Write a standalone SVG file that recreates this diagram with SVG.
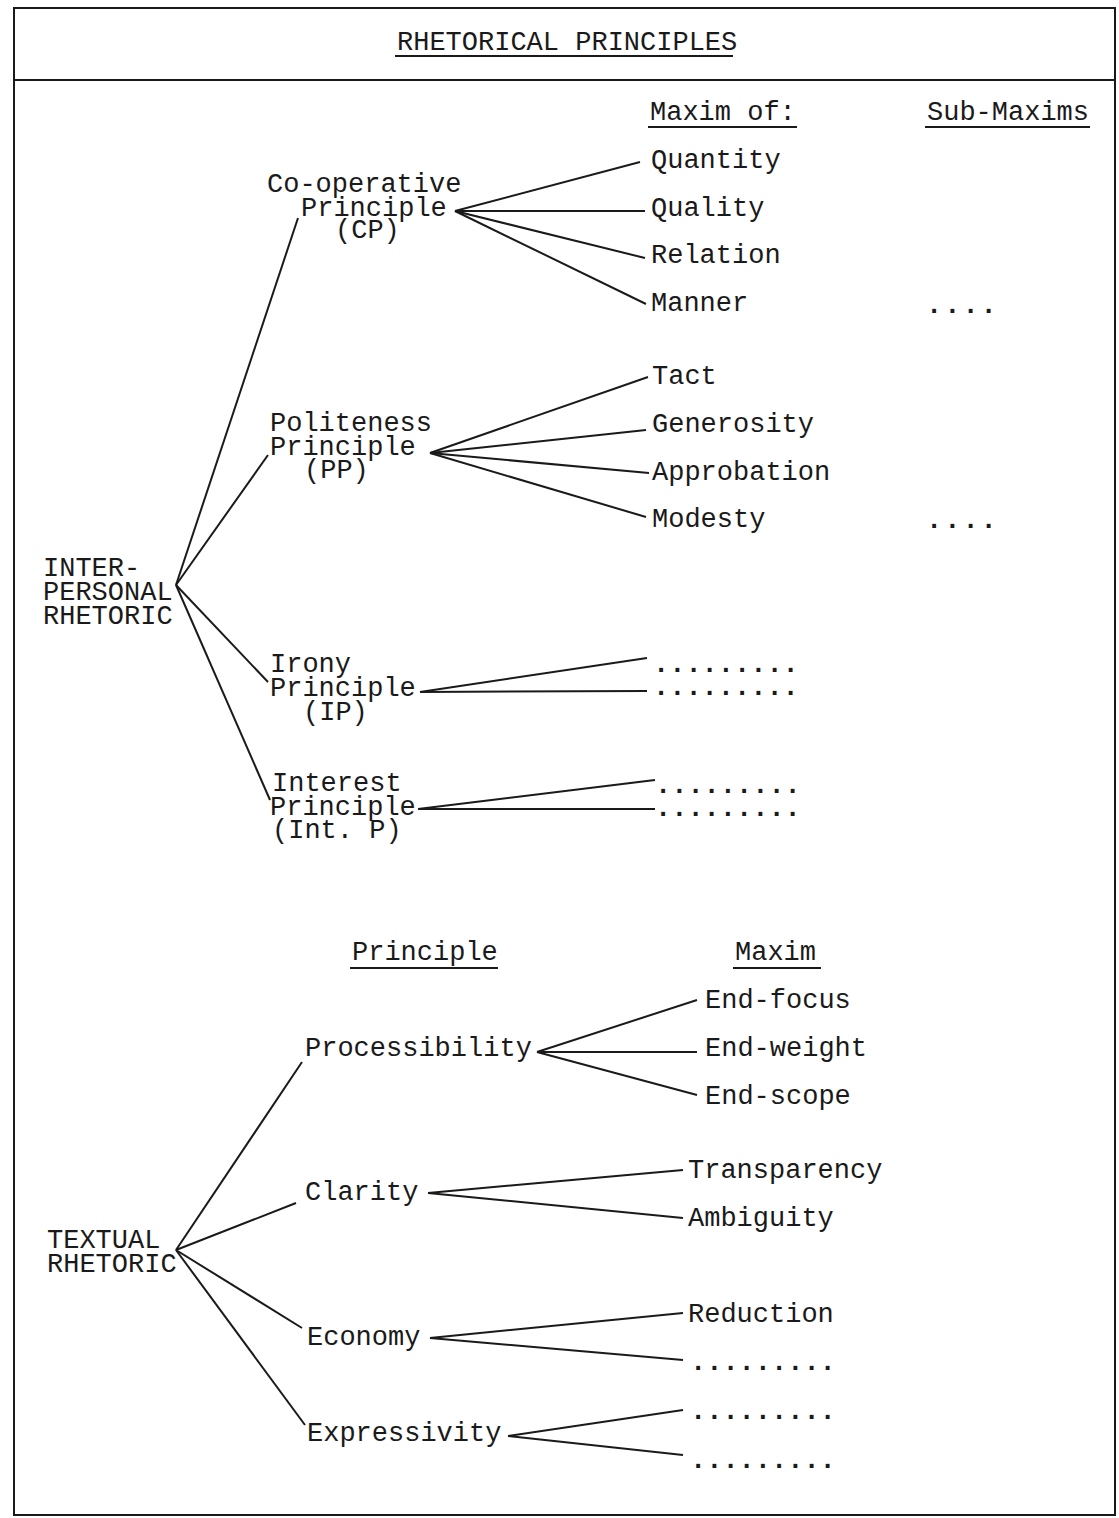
<svg xmlns="http://www.w3.org/2000/svg" width="1119" height="1518" viewBox="0 0 1119 1518">
<style>
text{font-family:"Liberation Mono","Courier New",monospace;font-size:27px;fill:#1a1a1a}
.c line,.ul{stroke:#1a1a1a;stroke-width:2;fill:none}
.frame{stroke:#1a1a1a;stroke-width:2;fill:#fff}
.dots{font-weight:bold}
</style>
<rect class="frame" x="14" y="8" width="1101" height="1507"/>
<line class="ul" x1="14" y1="80" x2="1115" y2="80"/>
<g id="title"><text x="397" y="50">RHETORICAL PRINCIPLES</text><line class="ul" x1="395" y1="56" x2="733" y2="56"/></g>
<g id="h-maxim"><text x="650" y="120">Maxim of:</text><line class="ul" x1="648" y1="127" x2="797" y2="127"/></g>
<g id="h-sub"><text x="927" y="120">Sub-Maxims</text><line class="ul" x1="925" y1="127" x2="1090" y2="127"/></g>
<g id="interpersonal"><text x="43" y="576">INTER-</text><text x="43" y="600">PERSONAL</text><text x="43" y="624">RHETORIC</text></g>
<g id="cp"><text x="267" y="192">Co-operative</text><text x="301" y="216">Principle</text><text x="335" y="238">(CP)</text></g>
<g id="quantity"><text x="651" y="168">Quantity</text></g>
<g id="quality"><text x="651" y="216">Quality</text></g>
<g id="relation"><text x="651" y="263">Relation</text></g>
<g id="manner"><text x="651" y="311">Manner</text></g>
<g id="cp-sub"><text class="dots" x="926" y="313" letter-spacing="2">....</text></g>
<g id="pp"><text x="270" y="431">Politeness</text><text x="270" y="455">Principle</text><text x="304" y="478">(PP)</text></g>
<g id="tact"><text x="652" y="384">Tact</text></g>
<g id="generosity"><text x="652" y="432">Generosity</text></g>
<g id="approbation"><text x="652" y="480">Approbation</text></g>
<g id="modesty"><text x="652" y="527">Modesty</text></g>
<g id="pp-sub"><text class="dots" x="926" y="528" letter-spacing="2">....</text></g>
<g id="ip"><text x="270" y="672">Irony</text><text x="270" y="696">Principle</text><text x="303" y="720">(IP)</text></g>
<g id="ip-m1"><text class="dots" x="653" y="672">.........</text></g>
<g id="ip-m2"><text class="dots" x="653" y="695">.........</text></g>
<g id="intp"><text x="272" y="791">Interest</text><text x="270" y="815">Principle</text><text x="272" y="838">(Int. P)</text></g>
<g id="intp-m1"><text class="dots" x="655" y="793">.........</text></g>
<g id="intp-m2"><text class="dots" x="655" y="816">.........</text></g>
<g id="h-principle"><text x="352" y="960">Principle</text><line class="ul" x1="350" y1="968" x2="498" y2="968"/></g>
<g id="h-maxim2"><text x="735" y="960">Maxim</text><line class="ul" x1="733" y1="968" x2="821" y2="968"/></g>
<g id="textual"><text x="47" y="1248">TEXTUAL</text><text x="47" y="1272">RHETORIC</text></g>
<g id="processibility"><text x="305" y="1056">Processibility</text></g>
<g id="endfocus"><text x="705" y="1008">End-focus</text></g>
<g id="endweight"><text x="705" y="1056">End-weight</text></g>
<g id="endscope"><text x="705" y="1104">End-scope</text></g>
<g id="clarity"><text x="305" y="1200">Clarity</text></g>
<g id="transparency"><text x="688" y="1178">Transparency</text></g>
<g id="ambiguity"><text x="688" y="1226">Ambiguity</text></g>
<g id="economy"><text x="307" y="1345">Economy</text></g>
<g id="reduction"><text x="688" y="1322">Reduction</text></g>
<g id="eco-m2"><text class="dots" x="690" y="1370">.........</text></g>
<g id="expressivity"><text x="307" y="1441">Expressivity</text></g>
<g id="exp-m1"><text class="dots" x="690" y="1419">.........</text></g>
<g id="exp-m2"><text class="dots" x="690" y="1468">.........</text></g>
<g id="connectors" class="c">
<line x1="176" y1="585" x2="298" y2="218"/>
<line x1="176" y1="585" x2="268" y2="455"/>
<line x1="176" y1="585" x2="268" y2="682"/>
<line x1="176" y1="585" x2="270" y2="800"/>
<line x1="455" y1="211" x2="640" y2="162"/>
<line x1="455" y1="211" x2="645" y2="211"/>
<line x1="455" y1="211" x2="645" y2="258"/>
<line x1="455" y1="211" x2="646" y2="304"/>
<line x1="430" y1="453" x2="648" y2="377"/>
<line x1="430" y1="453" x2="646" y2="430"/>
<line x1="430" y1="453" x2="649" y2="473"/>
<line x1="430" y1="453" x2="646" y2="517"/>
<line x1="420" y1="692" x2="647" y2="658"/>
<line x1="420" y1="692" x2="647" y2="691"/>
<line x1="418" y1="809" x2="655" y2="780"/>
<line x1="418" y1="809" x2="655" y2="809"/>
<line x1="176" y1="1250" x2="302" y2="1062"/>
<line x1="176" y1="1250" x2="296" y2="1203"/>
<line x1="176" y1="1250" x2="302" y2="1328"/>
<line x1="176" y1="1250" x2="305" y2="1425"/>
<line x1="537" y1="1052" x2="697" y2="1000"/>
<line x1="537" y1="1052" x2="697" y2="1052"/>
<line x1="537" y1="1052" x2="697" y2="1095"/>
<line x1="428" y1="1193" x2="683" y2="1170"/>
<line x1="428" y1="1193" x2="683" y2="1218"/>
<line x1="430" y1="1338" x2="683" y2="1313"/>
<line x1="430" y1="1338" x2="683" y2="1360"/>
<line x1="508" y1="1436" x2="683" y2="1410"/>
<line x1="508" y1="1436" x2="683" y2="1455"/>
</g>
</svg>
